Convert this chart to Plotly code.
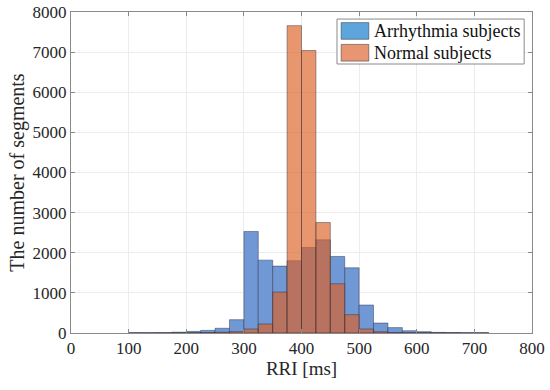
import plotly.graph_objects as go

# Histogram bins (left edges, ms) and counts
bin_left = [100, 125, 150, 175, 200, 225, 250, 275, 300, 325, 350, 375, 400,
            425, 450, 475, 500, 525, 550, 575, 600, 625, 650, 675, 700]
bin_width = 25
arrhythmia = [5, 5, 8, 20, 40, 65, 118, 332, 2530, 1816, 1667, 1800, 2131,
              2322, 1907, 1625, 697, 249, 135, 57, 33, 15, 10, 5, 5]
normal = [0, 0, 0, 2, 5, 10, 20, 35, 100, 224, 1020, 7660, 7040,
          2753, 1227, 456, 100, 32, 10, 5, 2, 0, 0, 0, 0]
series_names = ["Arrhythmia subjects", "Normal subjects"]

centers = [b + bin_width / 2 for b in bin_left]

font = "Liberation Serif, Times New Roman, serif"
edge = dict(color="rgba(40,40,60,0.55)", width=0.8)

fig = go.Figure()
fig.add_trace(go.Bar(x=centers, y=arrhythmia, width=bin_width,
                     name=series_names[0], showlegend=False,
                     marker=dict(color="rgb(112,152,212)", line=edge)))
fig.add_trace(go.Bar(x=centers, y=normal, width=bin_width,
                     name=series_names[1], showlegend=False,
                     marker=dict(color="rgba(220,96,35,0.66)", line=edge)))

axis_common = dict(showline=True, linecolor="#8a8a8a", linewidth=1, mirror="allticks",
                   ticks="inside", ticklen=4, tickcolor="#8a8a8a",
                   showgrid=True, gridcolor="#ececec", gridwidth=1, zeroline=False,
                   automargin=False,
                   tickfont=dict(family=font, size=17, color="#262626"))

# MATLAB-style legend box with large swatches (paper coordinates)
shapes = [
    dict(type="rect", xref="paper", yref="paper", x0=0.577, x1=0.983, y0=0.838, y1=0.978,
         fillcolor="white", line=dict(color="#8a8a8a", width=1), layer="above"),
    dict(type="rect", xref="paper", yref="paper", x0=0.586, x1=0.646, y0=0.915, y1=0.967,
         fillcolor="rgb(93,165,219)", line=dict(color="rgba(40,40,60,0.6)", width=0.8), layer="above"),
    dict(type="rect", xref="paper", yref="paper", x0=0.586, x1=0.646, y0=0.847, y1=0.899,
         fillcolor="rgb(232,149,113)", line=dict(color="rgba(40,40,60,0.6)", width=0.8), layer="above"),
]
annotations = [
    dict(text=series_names[0], xref="paper", yref="paper", x=0.653, y=0.941,
         xanchor="left", yanchor="middle", showarrow=False,
         font=dict(family=font, size=18, color="#111")),
    dict(text=series_names[1], xref="paper", yref="paper", x=0.653, y=0.872,
         xanchor="left", yanchor="middle", showarrow=False,
         font=dict(family=font, size=18, color="#111")),
]

fig.update_layout(
    width=550, height=390,
    margin=dict(l=71, r=18, t=12, b=57),
    barmode="overlay",
    paper_bgcolor="white", plot_bgcolor="white",
    font=dict(family=font, color="#262626"),
    xaxis=dict(range=[0, 800], dtick=100,
               title=dict(text="RRI [ms]", font=dict(family=font, size=19), standoff=2),
               **axis_common),
    yaxis=dict(range=[0, 8000], dtick=1000,
               title=dict(text="The number of segments", font=dict(family=font, size=20), standoff=2),
               **axis_common),
    shapes=shapes,
    annotations=annotations,
    showlegend=False,
)

fig.write_html("out.html", config={"displayModeBar": False},
               post_script="document.body.style.margin='0';document.body.style.padding='0';")
